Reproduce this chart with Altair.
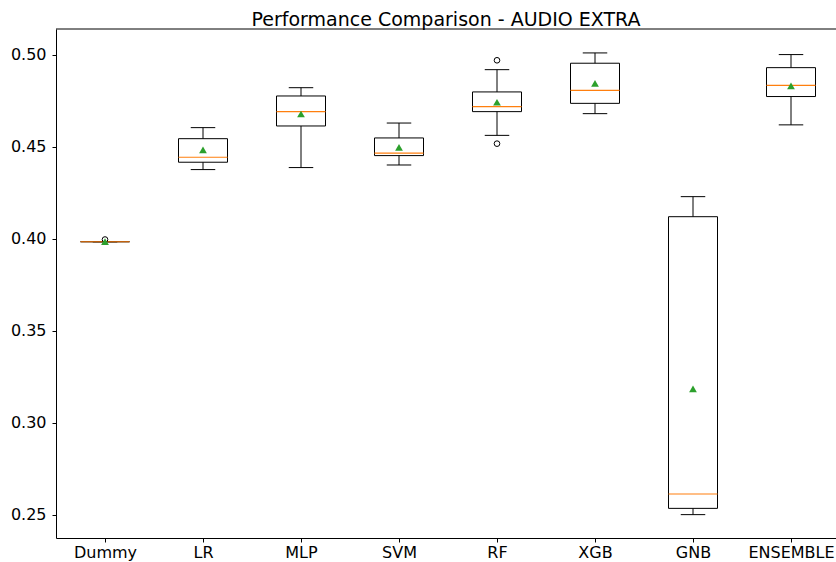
import json
import altair as alt
import pandas as pd

# Cross-validation accuracy summary per model
models = ["Dummy", "LR", "MLP", "SVM", "RF", "XGB", "GNB", "ENSEMBLE"]
whisker_low = [0.3985, 0.4377, 0.4388, 0.4402, 0.4563, 0.4681, 0.2502, 0.4620]
q1 = [0.3985, 0.4417, 0.4614, 0.4453, 0.4692, 0.4737, 0.2536, 0.4774]
median = [0.3985, 0.4444, 0.4692, 0.4467, 0.4719, 0.4808, 0.2614, 0.4835]
q3 = [0.3985, 0.4545, 0.4777, 0.4549, 0.4799, 0.4955, 0.4121, 0.4931]
whisker_high = [0.3985, 0.4605, 0.4822, 0.4630, 0.4920, 0.5011, 0.4230, 0.5002]
mean = [0.3985, 0.4484, 0.4679, 0.4498, 0.4743, 0.4846, 0.3185, 0.4832]

# Outlying points beyond the whiskers
flier_model = ["Dummy", "RF", "RF"]
flier_value = [0.3997, 0.4971, 0.4518]

W, H = 780, 509
STEP = 98.0
x_domain = [0.5, 0.5 + W / STEP]
y_domain = [0.2375, 0.5141]

stats = pd.DataFrame({
    "model": models,
    "pos": list(range(1, len(models) + 1)),
    "lo": whisker_low,
    "q1": q1,
    "med": median,
    "q3": q3,
    "hi": whisker_high,
    "mean": mean,
})
fliers = pd.DataFrame({
    "pos": [models.index(m) + 1 for m in flier_model],
    "value": flier_value,
})

label_expr = json.dumps(models) + "[datum.value - 1]"

x_enc = alt.X(
    "pos:Q",
    scale=alt.Scale(domain=x_domain, nice=False, zero=False),
    axis=alt.Axis(
        values=list(range(1, len(models) + 1)),
        labelExpr=label_expr,
        title=None,
        grid=False,
        tickSize=4,
        labelPadding=2,
        domainColor="black",
        tickColor="black",
    ),
)
y_scale = alt.Scale(domain=y_domain, nice=False, zero=False)
y_enc = alt.Y(
    "lo:Q",
    scale=y_scale,
    axis=alt.Axis(
        values=[0.25, 0.30, 0.35, 0.40, 0.45, 0.50],
        format=".2f",
        title=None,
        grid=False,
        tickSize=4,
        labelPadding=6,
        domainColor="black",
        tickColor="black",
    ),
)

base = alt.Chart(stats).transform_calculate(
    left="datum.pos - 0.25",
    right="datum.pos + 0.25",
    capl="datum.pos - 0.125",
    capr="datum.pos + 0.125",
)

whisk_low = base.mark_rule(color="black", strokeWidth=1).encode(
    x=x_enc, y=y_enc, y2="q1:Q"
)
whisk_high = base.mark_rule(color="black", strokeWidth=1).encode(
    x="pos:Q", y=alt.Y("q3:Q", scale=y_scale), y2="hi:Q"
)
cap_low = base.mark_rule(color="black", strokeWidth=1).encode(
    x="capl:Q", x2="capr:Q", y=alt.Y("lo:Q", scale=y_scale)
)
cap_high = base.mark_rule(color="black", strokeWidth=1).encode(
    x="capl:Q", x2="capr:Q", y=alt.Y("hi:Q", scale=y_scale)
)
box = base.mark_rect(fill=None, stroke="black", strokeWidth=1).encode(
    x="left:Q", x2="right:Q", y=alt.Y("q1:Q", scale=y_scale), y2="q3:Q"
)
med_line = base.mark_rule(color="#ff7f0e", strokeWidth=1.2).encode(
    x="left:Q", x2="right:Q", y=alt.Y("med:Q", scale=y_scale)
)
mean_pt = base.mark_point(
    shape="triangle-up", filled=True, color="#2ca02c", size=60, opacity=1
).encode(x="pos:Q", y=alt.Y("mean:Q", scale=y_scale))

flier_pts = alt.Chart(fliers).mark_point(
    shape="circle", filled=False, color="black", size=32, strokeWidth=1, opacity=1
).encode(x="pos:Q", y=alt.Y("value:Q", scale=y_scale))

top_spine = alt.Chart(pd.DataFrame({"k": [0]})).mark_rule(
    color="black", strokeWidth=1
).encode(x=alt.value(0), x2=alt.value(W), y=alt.value(0))

chart = alt.layer(
    whisk_low, whisk_high, cap_low, cap_high, box, med_line, flier_pts, mean_pt, top_spine
).properties(
    width=W,
    height=H,
    title=alt.TitleParams(
        "Performance Comparison - AUDIO EXTRA",
        fontSize=19,
        font="DejaVu Sans",
        fontWeight="normal",
        color="black",
        anchor="middle",
        baseline="alphabetic",
        offset=4,
        dy=20,
    ),
    autosize=alt.AutoSizeParams(type="none"),
    padding={"left": 56, "top": 29, "right": 0, "bottom": 24},
).configure_view(
    stroke=None
).configure_axis(
    labelFont="DejaVu Sans",
    labelFontSize=16,
    labelColor="black",
)

chart.save("out.html", embed_options={"renderer": "svg", "actions": False})
